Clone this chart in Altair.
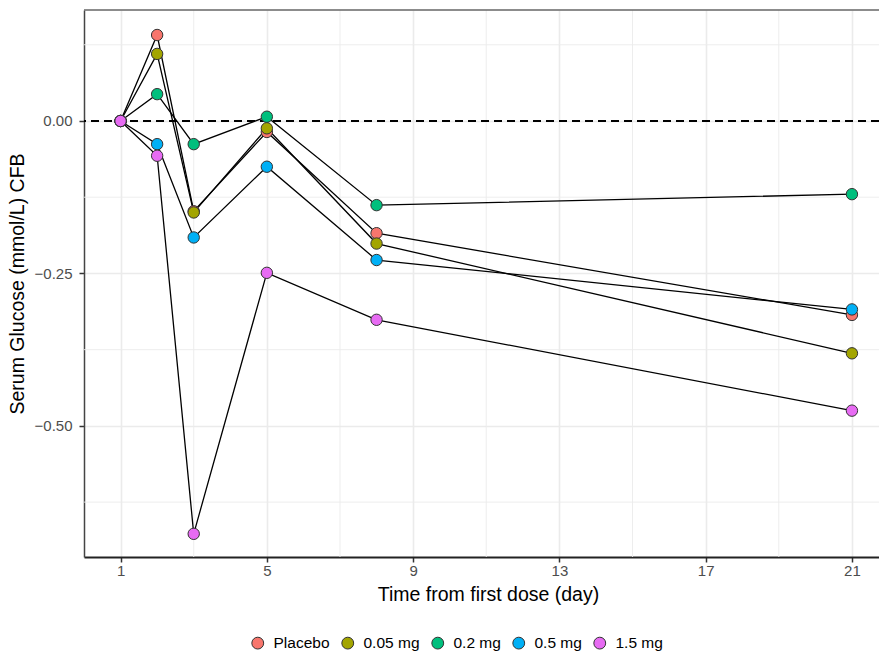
import altair as alt
import pandas as pd

# Change from baseline in serum glucose by dose group
days = [1, 2, 3, 5, 8, 21]
groups = ["Placebo", "0.05 mg", "0.2 mg", "0.5 mg", "1.5 mg"]
placebo = [0.0, 0.141, -0.148, -0.018, -0.184, -0.318]
dose_005 = [0.0, 0.110, -0.150, -0.012, -0.201, -0.381]
dose_02 = [0.0, 0.044, -0.038, 0.007, -0.138, -0.120]
dose_05 = [0.0, -0.038, -0.191, -0.075, -0.228, -0.309]
dose_15 = [0.0, -0.057, -0.677, -0.249, -0.326, -0.475]
colors = ["#F8766D", "#A3A500", "#00BF7D", "#00B0F6", "#E76BF3"]

x_major = [1, 5, 9, 13, 17, 21]
x_minor = [3, 7, 11, 15, 19]
y_major = [0.0, -0.25, -0.5]
y_minor = [0.125, -0.125, -0.375, -0.625]
baseline = [0.0]

rows = []
for g, vals in zip(groups, [placebo, dose_005, dose_02, dose_05, dose_15]):
    for d, v in zip(days, vals):
        rows.append({"group": g, "day": d, "cfb": v})
df = pd.DataFrame(rows)

FONT = "Liberation Sans"
W, H = 795, 547

x_scale = alt.Scale(domain=[0, 21.74], nice=False, zero=False)
y_scale = alt.Scale(domain=[-0.715, 0.182], nice=False, zero=False)

x_axis = alt.Axis(
    values=x_major, title="Time from first dose (day)", grid=True,
    gridColor="#EBEBEB", gridWidth=1.6, domainColor="#222222", domainWidth=1.8,
    tickColor="#333333", tickWidth=1.5, tickSize=5, labelPadding=1,
    labelFont=FONT, labelFontSize=15, labelColor="#4D4D4D", labelFlush=False,
    titleFont=FONT, titleFontSize=19.5, titleFontWeight="normal",
    titleColor="black", titlePadding=7, titleX=404,
)
y_axis = alt.Axis(
    values=y_major, format=".2f", title="Serum Glucose (mmol/L) CFB", grid=True,
    gridColor="#EBEBEB", gridWidth=1.6, domainColor="#444444", domainWidth=1.5,
    tickColor="#333333", tickWidth=1.5, tickSize=5, labelPadding=7,
    labelFont=FONT, labelFontSize=15, labelColor="#4D4D4D", labelFlush=False,
    titleFont=FONT, titleFontSize=19.5, titleFontWeight="normal",
    titleColor="black", titlePadding=7,
)

X = alt.X("day:Q", scale=x_scale, axis=x_axis)
Y = alt.Y("cfb:Q", scale=y_scale, axis=y_axis)

minor_x = alt.Chart(pd.DataFrame({"day": x_minor})).mark_rule(
    color="#EBEBEB", strokeWidth=0.9
).encode(x=X)
minor_y = alt.Chart(pd.DataFrame({"cfb": y_minor})).mark_rule(
    color="#EBEBEB", strokeWidth=0.9
).encode(y=Y)

zero_line = alt.Chart(pd.DataFrame({"cfb": baseline})).mark_rule(
    color="black", strokeWidth=2, strokeDash=[8, 5]
).encode(y=Y)

lines = alt.Chart(df).mark_line(color="black", strokeWidth=1.3).encode(
    x=X, y=Y, detail="group:N"
)

points = alt.Chart(df).mark_circle(
    size=130, opacity=1, stroke="#333333", strokeWidth=1
).encode(
    x=X, y=Y,
    fill=alt.Fill(
        "group:N",
        scale=alt.Scale(domain=groups, range=colors),
        sort=groups,
        legend=alt.Legend(
            title=None, orient="none", direction="horizontal",
            legendX=166, legendY=625, columns=5, padding=0,
            symbolType="circle", symbolSize=140,
            symbolStrokeColor="#333333", symbolStrokeWidth=1,
            labelFont=FONT, labelFontSize=15.5, labelColor="black",
            labelOffset=8, columnPadding=9,
        ),
    ),
)

top_border = alt.Chart(pd.DataFrame({"cfb": baseline})).mark_rule(
    color="#666666", strokeWidth=1.5
).encode(x=alt.value(0), x2=alt.value(W), y=alt.value(0))

chart = alt.layer(minor_x, minor_y, zero_line, lines, points, top_border).properties(
    width=W, height=H,
    padding={"left": 84, "top": 10, "right": 0, "bottom": 94},
    autosize="none",
).configure_view(stroke=None)

chart.save("out.html", embed_options={"renderer": "svg", "actions": False})
